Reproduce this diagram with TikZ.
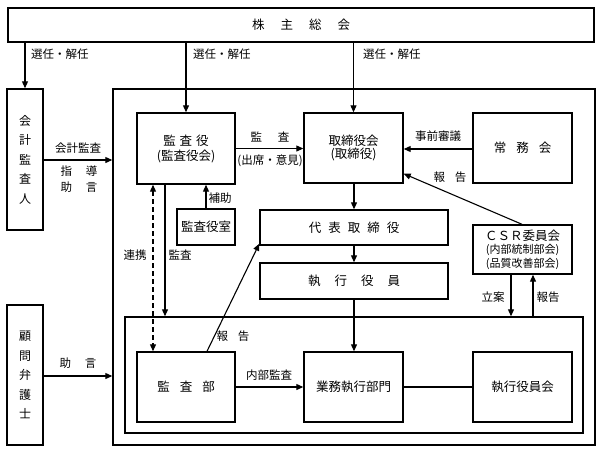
\documentclass[tikz,border=0pt]{standalone}
\usepackage{fontspec}
\setmainfont{Noto Sans CJK JP}
\usetikzlibrary{arrows.meta}
\newcommand{\gp}[1]{\hspace{#1pt}}
\begin{document}
\begin{tikzpicture}[x=1pt,y=-1pt,
 box/.style={draw,line width=1.4pt,inner sep=0pt,align=center,font=\fontsize{12.5}{14}\selectfont},
 frame/.style={draw,line width=1.4pt,inner sep=0pt},
 lab/.style={inner sep=0pt,font=\fontsize{11.5}{13}\selectfont,align=center},
 arr/.style={line width=1.1pt,-{Triangle[length=7pt,width=6pt]}},
 darr/.style={line width=1.1pt,dash pattern=on 5pt off 3pt,{Triangle[length=7pt,width=6pt]}-{Triangle[length=7pt,width=6pt]}},
 ln/.style={line width=1.1pt}]
\useasboundingbox (0,0) rectangle (602,453);
\fill[white] (0,0) rectangle (602,453);
% boxes
\node[box,minimum width=586pt,minimum height=34pt] (soukai) at (301,25) {株\gp{16}主\gp{16}総\gp{16}会};
\node[box,minimum width=36pt,minimum height=141pt,font=\fontsize{12}{19.5}\selectfont] (kaikei) at (25,159.5) {会\\計\\監\\査\\人};
\node[box,minimum width=36pt,minimum height=140pt,font=\fontsize{12}{19.5}\selectfont] (komon) at (25,375) {顧\\問\\弁\\護\\士};
\node[frame,minimum width=482pt,minimum height=356pt] (outer) at (354,267) {};
\node[frame,minimum width=458pt,minimum height=116pt] (inner) at (354,375) {};
\node[box,minimum width=98pt,minimum height=71pt,font=\fontsize{12.5}{15}\selectfont] (kansayaku) at (186,148.5) {監\gp{4}査\gp{4}役\\(監査役会)};
\node[box,minimum width=99pt,minimum height=70pt,font=\fontsize{12.5}{13.5}\selectfont] (torikai) at (353.5,148) {取締役会\\(取締役)};
\node[box,minimum width=99pt,minimum height=70pt] (joumu) at (522.5,148) {常\gp{10}務\gp{10}会};
\node[box,minimum width=58pt,minimum height=36pt] (shitsu) at (206,227) {監査役室};
\node[box,minimum width=188pt,minimum height=35pt] (daihyo) at (354,227.5) {代\gp{7}表\gp{7}取\gp{7}締\gp{7}役};
\node[box,minimum width=188pt,minimum height=36pt] (shikkou) at (354,281) {執\gp{14}行\gp{14}役\gp{14}員};
\node[box,minimum width=99pt,minimum height=49pt,font=\fontsize{11}{13.5}\selectfont] (csr) at (522.5,249.5) {{\fontsize{12.5}{13.5}\selectfont ＣＳＲ委員会}\\(内部統制部会)\\(品質改善部会)};
\node[box,minimum width=98pt,minimum height=70pt] (kansabu) at (186,387) {監\gp{10}査\gp{10}部};
\node[box,minimum width=99pt,minimum height=70pt] (gyomu) at (353.5,387) {業務執行部門};
\node[box,minimum width=99pt,minimum height=70pt] (shikkoukai) at (522.5,387) {執行役員会};
% arrows from soukai
\draw[arr] (soukai.south -| kaikei.north) -- (kaikei.north);
\draw[arr] (soukai.south -| kansayaku.north) -- (kansayaku.north);
\draw[arr] (soukai.south -| torikai.north) -- (torikai.north);
\node[lab,anchor=west] (l1) at (31,54) {選任・解任};
\node[lab,anchor=west] (l2) at (193,54) {選任・解任};
\node[lab,anchor=west] (l3) at (363,54) {選任・解任};
% kaikei
\draw[arr] ([yshift=-0.5pt]kaikei.east) -- ([yshift=-0.5pt]kaikei.east -| outer.west);
\node[lab] (l4) at (78,148) {会計監査};
\node[lab] (l5) at (79,171) {指\gp{14}導};
\node[lab] (l6) at (79,187) {助\gp{14}言};
% komon
\draw[arr] ([yshift=-1pt]komon.east) -- ([yshift=-1pt]komon.east -| outer.west);
\node[lab] (l7) at (78,363) {助\gp{14}言};
% kansayaku -> torikai
\draw[arr] (kansayaku.east) -- (kansayaku.east -| torikai.west);
\node[lab] (l8) at (270,137) {監\gp{16}査};
\node[lab] (l9) at (270,161) {(出席・意見)};
% joumu -> torikai
\draw[arr] ([yshift=-1pt]joumu.west) -- ([yshift=-1pt]joumu.west -| torikai.east);
\node[lab] (l10) at (438,136) {事前審議};
% csr -> torikai
\draw[arr] ([xshift=-0.5pt]csr.north) -- ([yshift=10pt]torikai.south east);
\node[lab] (l11) at (450,177) {報\gp{10}告};
% chain
\draw[arr] (torikai.south -| daihyo.north) -- (daihyo.north);
\draw[arr] (daihyo.south) -- (shikkou.north);
\draw[arr] (shikkou.south) -- (shikkou.south |- gyomu.north);
% kansabu -> daihyo
\draw[arr] ([xshift=21pt]kansabu.north) -- ([yshift=2pt]daihyo.south west);
\node[lab] (l12) at (233,336) {報\gp{10}告};
% shitsu -> kansayaku
\draw[arr] (shitsu.north) -- (shitsu.north |- kansayaku.south);
\node[lab] (l13) at (220,198) {補助};
% renkei dashed
\coordinate (d1) at ([xshift=-33pt]kansayaku.south);
\draw[darr] (d1) -- (d1 |- kansabu.north);
\node[lab] (l14) at (135,255) {連携};
\coordinate (d2) at ([xshift=-21pt]kansayaku.south);
\draw[arr] (d2) -- (d2 |- inner.north);
\node[lab] (l15) at (180,255) {監査};
% internal audit
\draw[arr] (kansabu.east) -- (gyomu.west);
\node[lab] (l16) at (269,375) {内部監査};
\draw[ln] (gyomu.east) -- (shikkoukai.west);
% csr <-> inner
\coordinate (c1) at ([xshift=-11.5pt]csr.south);
\draw[arr] (c1) -- (c1 |- inner.north);
\node[lab] (l17) at (493,297) {立案};
\coordinate (c2) at ([xshift=10.5pt]csr.south);
\draw[arr] (c2 |- inner.north) -- (c2);
\node[lab] (l18) at (548,297) {報告};
\end{tikzpicture}
\end{document}
